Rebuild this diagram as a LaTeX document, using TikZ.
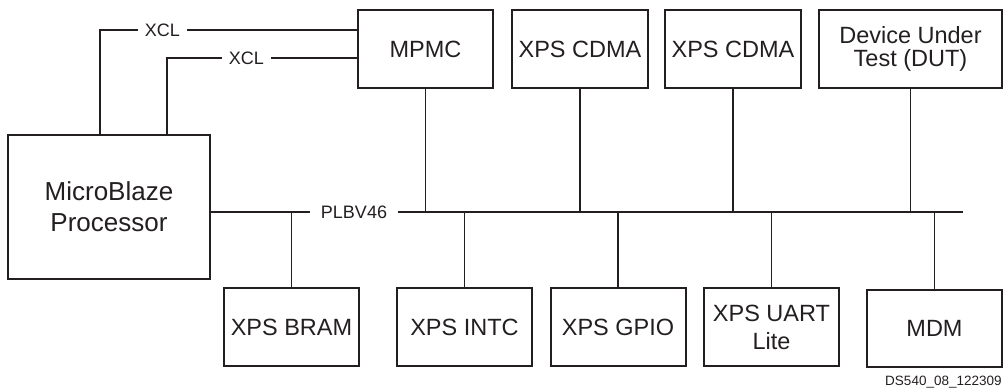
\documentclass[tikz,border=0pt]{standalone}
\usepackage{fontspec}
\setmainfont{Liberation Sans}
\definecolor{ink}{RGB}{35,31,32}
\begin{document}
\begin{tikzpicture}[x=0.5pt,y=-0.5pt,
    block/.style={draw=ink,line width=1pt,minimum width=67.5pt,minimum height=39pt,
      inner sep=0pt,align=center,text=ink,font=\fontsize{11.75}{14}\selectfont},
    buslabel/.style={inner xsep=3.5pt,inner ysep=0pt,text=ink,font=\fontsize{9}{10}\selectfont}]
  \useasboundingbox (0,0) rectangle (1003,389);
  \draw
    (109,207) node[block,minimum width=101pt,minimum height=72pt,
      font=\fontsize{13}{15.5}\selectfont] (mb){MicroBlaze\\Processor}
    (425.5,49) node[block] (mpmc){MPMC}
    (580,49) node[block,minimum width=68pt] (cdmaa){XPS CDMA}
    (733,49) node[block,minimum width=68pt] (cdmab){XPS CDMA}
    (910.5,49) node[block,minimum width=91.5pt,
      font=\fontsize{11.75}{11.75}\selectfont] (dut){Device Under\\Test (DUT)}
    (291.5,327) node[block] (bram){XPS BRAM}
    (464.5,327) node[block] (intc){XPS INTC}
    (618,327) node[block] (gpio){XPS GPIO}
    (771.5,327) node[block] (uart){XPS UART\\Lite}
    (934.5,328.5) node[block,minimum height=38.5pt] (mdm){MDM};
  \draw
    (162.5,30) node[buslabel] (xcla){XCL}
    (246.5,58) node[buslabel] (xclb){XCL}
    (354,212) node[buslabel,inner xsep=5.25pt] (plb){PLBV46}
    (1002,386) node[anchor=base east,inner sep=0pt,text=ink,
      font=\fontsize{6.75}{8}\selectfont] (tag){DS540\_08\_122309};
  \coordinate (xclafoot) at (100,135);
  \coordinate (xclbfoot) at (167,135);
  \coordinate (busend) at (963,212);
  \begin{scope}[ink,line width=0.65pt]
    \draw (xclafoot) |- (xcla);
    \draw (xcla) -- (mpmc.west |- xcla);
    \draw (xclbfoot) |- (xclb);
    \draw (xclb) -- (mpmc.west |- xclb);
    \draw (mb.east |- plb) -- (plb);
    \draw (plb) -- (busend);
    \draw (mpmc) -- (mpmc |- busend);
    \draw (cdmaa) -- (cdmaa |- busend);
    \draw (cdmab) -- (cdmab |- busend);
    \draw (dut) -- (dut |- busend);
    \draw (bram) -- (bram |- busend);
    \draw (intc) -- (intc |- busend);
    \draw (gpio) -- (gpio |- busend);
    \draw (uart) -- (uart |- busend);
    \draw (mdm) -- (mdm |- busend);
  \end{scope}
\end{tikzpicture}
\end{document}
